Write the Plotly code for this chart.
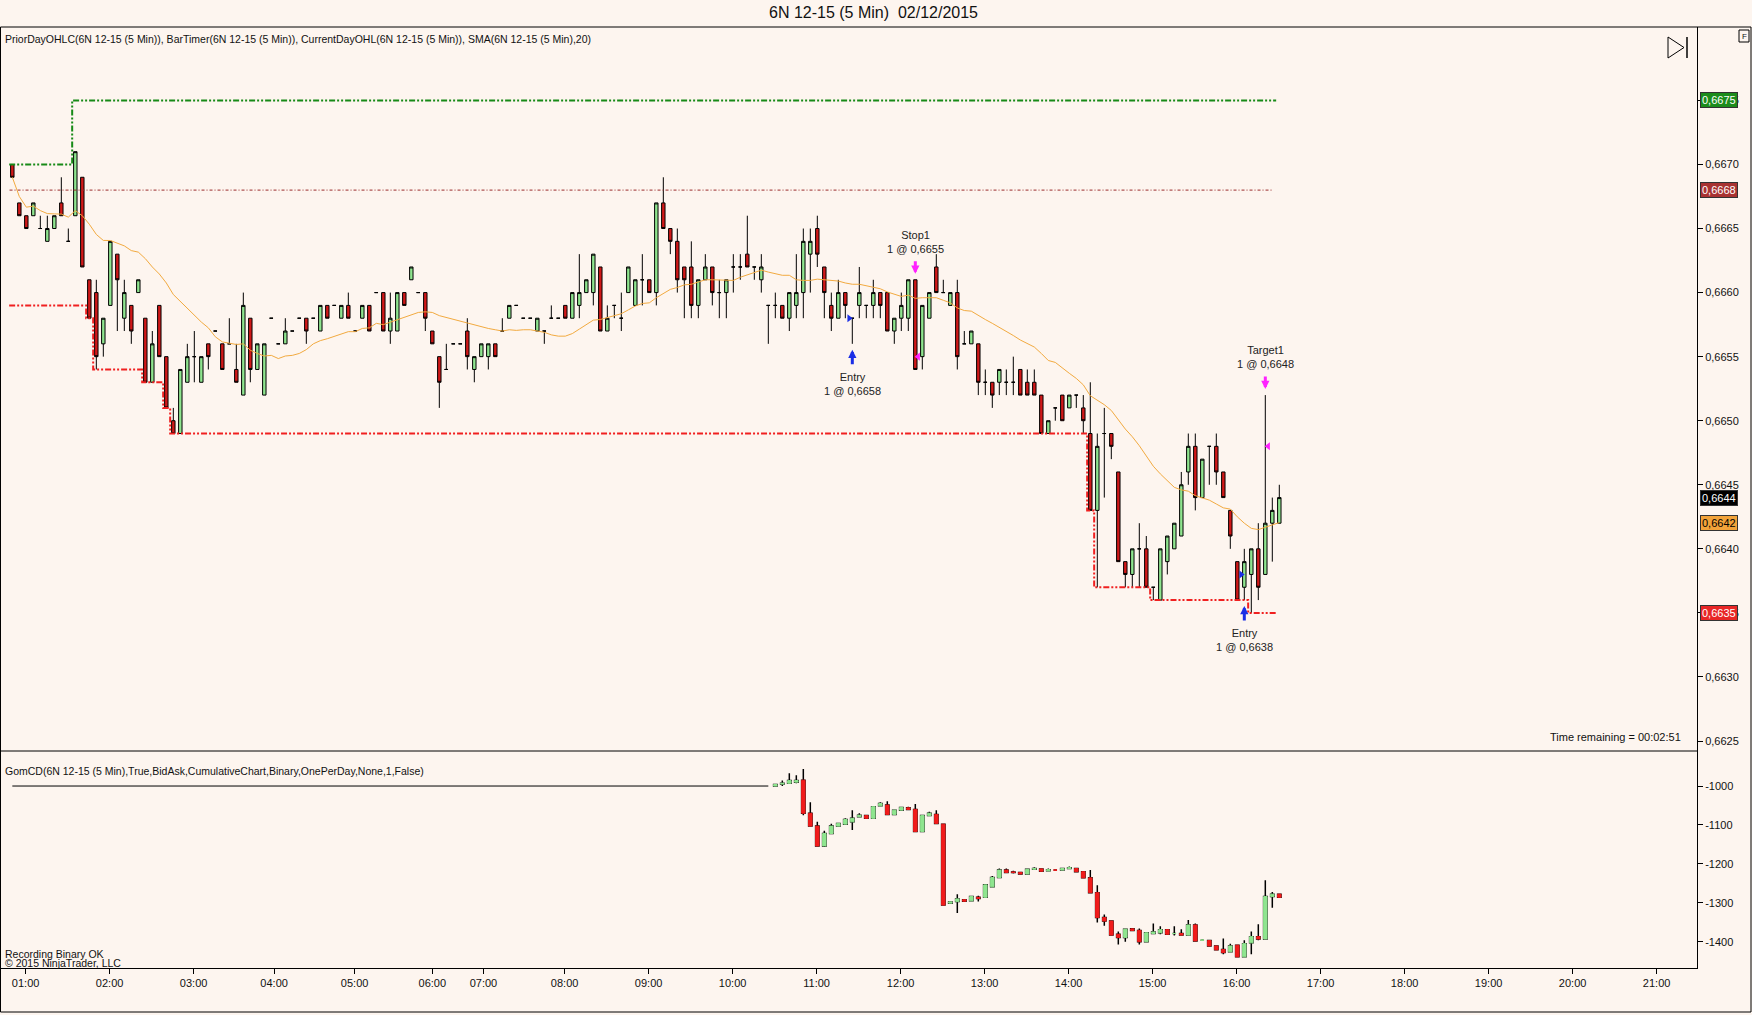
import pandas as pd
import plotly.graph_objects as go

W, H = 1752, 1015
BG = "#fdf5ef"
FONT = "Liberation Sans, Arial, sans-serif"

title = "6N 12-15 (5 Min)  02/12/2015"
price_label = ("PriorDayOHLC(6N 12-15 (5 Min)), BarTimer(6N 12-15 (5 Min)), "
               "CurrentDayOHL(6N 12-15 (5 Min)), SMA(6N 12-15 (5 Min),20)")
delta_label = "GomCD(6N 12-15 (5 Min),True,BidAsk,CumulativeChart,Binary,OnePerDay,None,1,False)"

# x axis: bar index of each hourly label
tick_labels = ["01:00", "02:00", "03:00", "04:00", "05:00", "06:00", "07:00", "08:00",
               "09:00", "10:00", "11:00", "12:00", "13:00", "14:00", "15:00", "16:00",
               "17:00", "18:00", "19:00", "20:00", "21:00"]
tick_bars = [1.9, 13.9, 25.9, 37.4, 48.9, 60.0, 67.3, 78.9, 90.9, 102.9, 114.9,
             126.9, 138.9, 150.9, 162.9, 174.9, 186.9, 198.9, 210.9, 222.9, 234.9]

price_ticks = [0.6625, 0.6630, 0.6635, 0.6640, 0.6645, 0.6650,
               0.6655, 0.6660, 0.6665, 0.6670, 0.6675]
delta_ticks = [-1000, -1100, -1200, -1300, -1400]

# 5 min OHLC
opens = [
    0.6670, 0.6667, 0.6666, 0.6666, 0.6665, 0.6664, 0.6665, 0.6667, 0.6664, 0.6666,
    0.6669, 0.6661, 0.6660, 0.6656, 0.6659, 0.6663, 0.6658, 0.6659, 0.6660, 0.6658,
    0.6653, 0.6659, 0.6655, 0.6650, 0.6649, 0.6653, 0.6655, 0.6653, 0.6656, 0.6657,
    0.6656, 0.6656, 0.6654, 0.6652, 0.6658, 0.6654, 0.6652, 0.6658, 0.6656, 0.6656,
    0.6657, 0.6658, 0.6658, 0.6658, 0.6657, 0.6659, 0.6659, 0.6658, 0.6659, 0.6657,
    0.6658, 0.6659, 0.6660, 0.6660, 0.6657, 0.6657, 0.6660, 0.6661, 0.6660, 0.6660,
    0.6657, 0.6655, 0.6654, 0.6656, 0.6656, 0.6657, 0.6654, 0.6655, 0.6655, 0.6656,
    0.6657, 0.6658, 0.6659, 0.6658, 0.6658, 0.6657, 0.6657, 0.6658, 0.6658, 0.6659,
    0.6658, 0.6659, 0.6660, 0.6660, 0.6662, 0.6657, 0.6659, 0.6658, 0.6660, 0.6659,
    0.6661, 0.6661, 0.6660, 0.6667, 0.6665, 0.6664, 0.6662, 0.6662, 0.6659, 0.6661,
    0.6662, 0.6660, 0.6660, 0.6662, 0.6662, 0.6663, 0.6662, 0.6661, 0.6659, 0.6659,
    0.6659, 0.6658, 0.6659, 0.6660, 0.6663, 0.6665, 0.6662, 0.6659, 0.6658, 0.6660,
    0.6658, 0.6659, 0.6659, 0.6659, 0.6660, 0.6660, 0.6657, 0.6658, 0.6658, 0.6661,
    0.6655, 0.6658, 0.6662, 0.6660, 0.6659, 0.6660, 0.6656, 0.6656, 0.6656, 0.6653,
    0.6653, 0.6653, 0.6653, 0.6653, 0.6654, 0.6653, 0.6653, 0.6652, 0.6649, 0.6651,
    0.6652, 0.6651, 0.6652, 0.6651, 0.6649, 0.6643, 0.6649, 0.6649, 0.6646, 0.6639,
    0.6638, 0.6640, 0.6640, 0.6637, 0.6636, 0.6639, 0.6640, 0.6641, 0.6646, 0.6648,
    0.6644, 0.6648, 0.6648, 0.6646, 0.6643, 0.6639, 0.6637, 0.6638, 0.6640, 0.6638,
    0.6642, 0.6642,
]
highs = [
    0.6670, 0.6667, 0.6666, 0.6667, 0.6666, 0.6666, 0.6666, 0.6669, 0.6665, 0.6671,
    0.6669, 0.6661, 0.6661, 0.6658, 0.6664, 0.6663, 0.6661, 0.6659, 0.6661, 0.6658,
    0.6657, 0.6659, 0.6655, 0.6651, 0.6654, 0.6656, 0.6657, 0.6655, 0.6656, 0.6657,
    0.6656, 0.6658, 0.6656, 0.6660, 0.6658, 0.6656, 0.6656, 0.6658, 0.6656, 0.6658,
    0.6657, 0.6658, 0.6658, 0.6658, 0.6659, 0.6659, 0.6659, 0.6659, 0.6660, 0.6657,
    0.6659, 0.6659, 0.6660, 0.6660, 0.6660, 0.6660, 0.6660, 0.6662, 0.6660, 0.6660,
    0.6657, 0.6655, 0.6656, 0.6656, 0.6656, 0.6658, 0.6655, 0.6656, 0.6656, 0.6656,
    0.6658, 0.6659, 0.6659, 0.6658, 0.6658, 0.6658, 0.6657, 0.6659, 0.6658, 0.6659,
    0.6660, 0.6663, 0.6661, 0.6663, 0.6662, 0.6659, 0.6659, 0.6660, 0.6662, 0.6661,
    0.6663, 0.6661, 0.6667, 0.6669, 0.6665, 0.6665, 0.6662, 0.6664, 0.6661, 0.6663,
    0.6662, 0.6661, 0.6661, 0.6663, 0.6663, 0.6666, 0.6662, 0.6663, 0.6659, 0.6660,
    0.6659, 0.6660, 0.6663, 0.6665, 0.6665, 0.6666, 0.6662, 0.6660, 0.6661, 0.6660,
    0.6658, 0.6662, 0.6659, 0.6661, 0.6660, 0.6660, 0.6658, 0.6660, 0.6661, 0.6661,
    0.6659, 0.6660, 0.6663, 0.6661, 0.6660, 0.6661, 0.6657, 0.6657, 0.6656, 0.6654,
    0.6653, 0.6654, 0.6654, 0.6655, 0.6654, 0.6654, 0.6654, 0.6652, 0.6650, 0.6651,
    0.6652, 0.6652, 0.6652, 0.6652, 0.6653, 0.6649, 0.6651, 0.6649, 0.6646, 0.6639,
    0.6640, 0.6642, 0.6641, 0.6637, 0.6640, 0.6641, 0.6642, 0.6646, 0.6649, 0.6649,
    0.6647, 0.6648, 0.6649, 0.6646, 0.6643, 0.6639, 0.6640, 0.6640, 0.6642, 0.6652,
    0.6644, 0.6645,
]
lows = [
    0.6669, 0.6666, 0.6665, 0.6666, 0.6665, 0.6664, 0.6665, 0.6666, 0.6664, 0.6666,
    0.6662, 0.6658, 0.6654, 0.6655, 0.6659, 0.6657, 0.6657, 0.6656, 0.6660, 0.6653,
    0.6653, 0.6655, 0.6651, 0.6649, 0.6649, 0.6653, 0.6653, 0.6653, 0.6654, 0.6657,
    0.6654, 0.6656, 0.6653, 0.6652, 0.6653, 0.6654, 0.6652, 0.6658, 0.6656, 0.6656,
    0.6657, 0.6658, 0.6656, 0.6658, 0.6657, 0.6658, 0.6659, 0.6658, 0.6658, 0.6657,
    0.6658, 0.6657, 0.6660, 0.6657, 0.6656, 0.6657, 0.6659, 0.6661, 0.6660, 0.6657,
    0.6656, 0.6651, 0.6654, 0.6656, 0.6656, 0.6654, 0.6653, 0.6655, 0.6654, 0.6655,
    0.6657, 0.6658, 0.6659, 0.6658, 0.6658, 0.6657, 0.6656, 0.6658, 0.6658, 0.6658,
    0.6658, 0.6658, 0.6660, 0.6659, 0.6657, 0.6657, 0.6658, 0.6657, 0.6660, 0.6659,
    0.6659, 0.6660, 0.6659, 0.6665, 0.6663, 0.6660, 0.6658, 0.6658, 0.6658, 0.6661,
    0.6659, 0.6658, 0.6658, 0.6660, 0.6661, 0.6662, 0.6661, 0.6660, 0.6656, 0.6658,
    0.6658, 0.6657, 0.6658, 0.6658, 0.6660, 0.6662, 0.6658, 0.6657, 0.6658, 0.6658,
    0.6656, 0.6658, 0.6658, 0.6658, 0.6658, 0.6657, 0.6656, 0.6657, 0.6657, 0.6654,
    0.6654, 0.6658, 0.6660, 0.6660, 0.6659, 0.6654, 0.6656, 0.6656, 0.6652, 0.6652,
    0.6651, 0.6652, 0.6652, 0.6652, 0.6652, 0.6652, 0.6652, 0.6649, 0.6649, 0.6650,
    0.6650, 0.6651, 0.6651, 0.6649, 0.6643, 0.6637, 0.6644, 0.6647, 0.6639, 0.6637,
    0.6637, 0.6637, 0.6637, 0.6636, 0.6636, 0.6638, 0.6640, 0.6641, 0.6645, 0.6643,
    0.6644, 0.6645, 0.6645, 0.6644, 0.6640, 0.6636, 0.6636, 0.6635, 0.6636, 0.6638,
    0.6639, 0.6642,
]
closes = [
    0.6669, 0.6666, 0.6665, 0.6667, 0.6665, 0.6665, 0.6666, 0.6666, 0.6664, 0.6671,
    0.6662, 0.6658, 0.6655, 0.6658, 0.6664, 0.6661, 0.6660, 0.6657, 0.6661, 0.6653,
    0.6656, 0.6655, 0.6651, 0.6649, 0.6654, 0.6655, 0.6655, 0.6655, 0.6655, 0.6657,
    0.6654, 0.6656, 0.6653, 0.6659, 0.6654, 0.6656, 0.6656, 0.6658, 0.6656, 0.6657,
    0.6657, 0.6658, 0.6657, 0.6658, 0.6659, 0.6658, 0.6659, 0.6659, 0.6658, 0.6657,
    0.6659, 0.6657, 0.6660, 0.6657, 0.6658, 0.6660, 0.6659, 0.6662, 0.6660, 0.6658,
    0.6656, 0.6653, 0.6654, 0.6656, 0.6656, 0.6655, 0.6655, 0.6656, 0.6656, 0.6655,
    0.6657, 0.6659, 0.6659, 0.6658, 0.6658, 0.6658, 0.6657, 0.6658, 0.6658, 0.6658,
    0.6660, 0.6660, 0.6661, 0.6663, 0.6657, 0.6658, 0.6659, 0.6658, 0.6662, 0.6661,
    0.6661, 0.6660, 0.6667, 0.6665, 0.6664, 0.6661, 0.6661, 0.6659, 0.6661, 0.6662,
    0.6660, 0.6660, 0.6661, 0.6662, 0.6662, 0.6662, 0.6662, 0.6662, 0.6659, 0.6659,
    0.6658, 0.6660, 0.6660, 0.6664, 0.6664, 0.6663, 0.6660, 0.6658, 0.6660, 0.6659,
    0.6658, 0.6660, 0.6659, 0.6660, 0.6659, 0.6657, 0.6658, 0.6659, 0.6661, 0.6654,
    0.6659, 0.6660, 0.6660, 0.6660, 0.6660, 0.6655, 0.6656, 0.6657, 0.6653, 0.6653,
    0.6652, 0.6654, 0.6653, 0.6653, 0.6652, 0.6652, 0.6652, 0.6649, 0.6650, 0.6651,
    0.6650, 0.6652, 0.6652, 0.6650, 0.6643, 0.6648, 0.6649, 0.6648, 0.6639, 0.6638,
    0.6640, 0.6640, 0.6637, 0.6637, 0.6640, 0.6641, 0.6642, 0.6645, 0.6648, 0.6644,
    0.6647, 0.6648, 0.6646, 0.6644, 0.6641, 0.6636, 0.6639, 0.6640, 0.6637, 0.6642,
    0.6643, 0.6644,
]

prior_close = 0.6668
hi_start_bars = [0, 9]
hi_levels = [0.6670, 0.6675]
lo_start_bars = [0, 11, 12, 19, 22, 23, 154, 155, 163, 177]
lo_levels = [0.6659, 0.6658, 0.6654, 0.6653, 0.6651, 0.6649, 0.6643, 0.6637, 0.6636, 0.6635]

# cumulative delta, recorded from bar 109 on
cd_first_bar = 109
cd_base = -1000
cd_open = [-1000, -995, -993, -990, -985, -1070, -1103, -1154, -1122, -1103,
           -1098, -1092, -1079, -1076, -1083, -1051, -1049, -1073, -1062, -1056,
           -1060, -1117, -1076, -1073, -1098, -1301, -1297, -1292, -1295, -1286,
           -1286, -1259, -1235, -1216, -1221, -1222, -1226, -1214, -1213, -1218,
           -1216, -1216, -1212, -1212, -1220, -1236, -1274, -1338, -1347, -1381,
           -1389, -1367, -1371, -1400, -1379, -1377, -1369, -1379, -1379, -1383,
           -1357, -1396, -1397, -1411, -1420, -1426, -1409, -1439, -1403, -1387,
           -1393, -1284, -1278]
cd_high = [-996, -986, -967, -972, -956, -1042, -1092, -1115, -1097, -1096,
           -1083, -1062, -1070, -1076, -1053, -1042, -1039, -1062, -1055, -1053,
           -1046, -1076, -1066, -1062, -1098, -1298, -1278, -1292, -1284, -1282,
           -1254, -1231, -1212, -1212, -1218, -1222, -1214, -1209, -1213, -1212,
           -1216, -1212, -1207, -1212, -1220, -1216, -1255, -1330, -1347, -1374,
           -1366, -1367, -1366, -1377, -1353, -1360, -1369, -1360, -1368, -1344,
           -1353, -1394, -1397, -1411, -1392, -1405, -1409, -1396, -1374, -1355,
           -1242, -1272, -1278]
cd_low = [-1000, -1000, -993, -993, -1075, -1103, -1154, -1157, -1122, -1103,
          -1098, -1113, -1079, -1083, -1083, -1051, -1073, -1073, -1062, -1060,
          -1117, -1117, -1076, -1096, -1306, -1301, -1326, -1296, -1295, -1297,
          -1286, -1259, -1235, -1222, -1225, -1226, -1226, -1214, -1219, -1218,
          -1216, -1216, -1212, -1220, -1236, -1274, -1351, -1359, -1383, -1407,
          -1400, -1371, -1407, -1400, -1379, -1381, -1381, -1384, -1383, -1383,
          -1398, -1398, -1411, -1421, -1432, -1426, -1439, -1439, -1432, -1396,
          -1393, -1313, -1286]
cd_close = [-996, -993, -986, -986, -1070, -1103, -1154, -1122, -1103, -1096,
            -1086, -1083, -1075, -1083, -1053, -1045, -1073, -1062, -1055, -1060,
            -1117, -1076, -1070, -1096, -1306, -1298, -1290, -1296, -1284, -1289,
            -1254, -1235, -1216, -1222, -1222, -1226, -1214, -1212, -1219, -1215,
            -1216, -1212, -1210, -1220, -1236, -1274, -1338, -1347, -1383, -1389,
            -1368, -1371, -1400, -1377, -1375, -1369, -1381, -1379, -1383, -1357,
            -1398, -1396, -1411, -1421, -1428, -1411, -1439, -1405, -1387, -1393,
            -1284, -1278, -1286]

# executions
trade_bars = [120, 129, 176, 179]
trade_prices = [0.6658, 0.6655, 0.6638, 0.6648]
trade_names = ["Entry", "Stop1", "Entry", "Target1"]
trade_sides = ["buy", "sell", "buy", "sell"]

time_remaining = "Time remaining = 00:02:51"

# ---- layout geometry (pixels) ----
PLOT_R = 1697
TOP, MID, BOT = 27, 751, 968
X_RANGE = [-1.76, 240.67]
PRICE_RANGE = [0.662422, 0.668073]
CD_RANGE = [-1467.6, -910.0]


def px(x):
    return x / W


def py(y):
    return 1 - y / H


def fmt(v):
    return f"{v:.4f}".replace(".", ",")


def steps(starts, levels, n):
    out = []
    for i in range(n):
        k = max(j for j, s in enumerate(starts) if s <= i)
        out.append(levels[k])
    return out


n = len(opens)
bars = list(range(n))
day_hi = steps(hi_start_bars, hi_levels, n)
day_lo = steps(lo_start_bars, lo_levels, n)
sma = pd.Series(closes).rolling(20, min_periods=1).mean()
cd_bars = list(range(cd_first_bar, cd_first_bar + len(cd_open)))
body_hi = [max(o, c) for o, c in zip(cd_open, cd_close)]
body_lo = [min(o, c) for o, c in zip(cd_open, cd_close)]

fig = go.Figure()

fig.add_trace(go.Candlestick(
    x=bars, open=opens, high=highs, low=lows, close=closes,
    increasing=dict(line=dict(color="black", width=1), fillcolor="#8fe58f"),
    decreasing=dict(line=dict(color="black", width=1), fillcolor="#d01818"),
    hoverinfo="skip", showlegend=False, xaxis="x", yaxis="y"))

dash = "6px,2px,2px,2px,2px,2px"
fig.add_trace(go.Scatter(
    x=[b - 0.45 for b in bars], y=day_hi, mode="lines",
    line=dict(color="#178a17", width=2, dash=dash, shape="hv"),
    hoverinfo="skip", showlegend=False))
fig.add_trace(go.Scatter(
    x=[b - 0.45 for b in bars], y=day_lo, mode="lines",
    line=dict(color="#f02020", width=2, dash=dash, shape="hv"),
    hoverinfo="skip", showlegend=False))
fig.add_trace(go.Scatter(
    x=[bars[0] - 0.4, bars[-1] - 0.9], y=[prior_close, prior_close], mode="lines",
    line=dict(color="#9a2a2a", width=1, dash="3px,2px,1px,2px"),
    hoverinfo="skip", showlegend=False))
fig.add_trace(go.Scatter(
    x=bars, y=sma, mode="lines", line=dict(color="#f2aa40", width=1),
    hoverinfo="skip", showlegend=False))

# execution triangles
for b, p, side in zip(trade_bars, trade_prices, trade_sides):
    buy = side == "buy"
    fig.add_trace(go.Scatter(
        x=[b - 0.45 if buy else b + 0.4], y=[p], mode="markers",
        marker=dict(symbol="triangle-right" if buy else "triangle-left", size=7,
                    color="#1a2ee6" if buy else "#ff22ff", line=dict(width=0)),
        hoverinfo="skip", showlegend=False))

# cumulative delta panel
fig.add_trace(go.Scatter(
    x=list(range(cd_first_bar)), y=[cd_base] * cd_first_bar, mode="lines",
    line=dict(color="black", width=1), hoverinfo="skip", showlegend=False,
    xaxis="x", yaxis="y2"))
fig.add_trace(go.Candlestick(
    x=cd_bars, open=cd_open, high=cd_high, low=cd_low, close=cd_close,
    increasing=dict(line=dict(color="black", width=1.5), fillcolor="#8fe58f"),
    decreasing=dict(line=dict(color="black", width=1.5), fillcolor="#f01c1c"),
    hoverinfo="skip", showlegend=False, xaxis="x", yaxis="y2"))
fig.add_trace(go.Candlestick(
    x=cd_bars, open=cd_open, high=body_hi, low=body_lo, close=cd_close,
    increasing=dict(line=dict(color="#8fe58f", width=1), fillcolor="#8fe58f"),
    decreasing=dict(line=dict(color="#f01c1c", width=1), fillcolor="#f01c1c"),
    hoverinfo="skip", showlegend=False, xaxis="x", yaxis="y2"))

ann = []
shapes = []

# trade arrows and labels
for b, p, name, side in zip(trade_bars, trade_prices, trade_names, trade_sides):
    buy = side == "buy"
    col = "#1a2ee6" if buy else "#ff22ff"
    y0 = lows[b] if buy else highs[b]
    ann.append(dict(x=b, y=y0, xref="x", yref="y", text="", showarrow=True,
                    ax=0, ay=22 if buy else -20, standoff=6, arrowhead=2,
                    arrowsize=0.55, arrowwidth=3, arrowcolor=col))
    ann.append(dict(x=b, y=y0, xref="x", yref="y", text=f"{name}<br>1 @ {fmt(p)}",
                    showarrow=False, yanchor="top" if buy else "bottom",
                    yshift=-25 if buy else 23, font=dict(size=11, color="#222")))

# price labels on the axis
right_labels = [
    (day_hi[-1], "#1c8c1c", "white"),
    (prior_close, "#a83232", "white"),
    (closes[-1], "#000000", "white"),
    (round(sma.iloc[-1], 4), "#f2a33a", "black"),
    (day_lo[-1], "#e82626", "white"),
]
for v, bg, fc in right_labels:
    ann.append(dict(x=px(1700), y=v, xref="paper", yref="y", text=fmt(v),
                    showarrow=False, xanchor="left", yanchor="middle",
                    bgcolor=bg, bordercolor="#333", borderwidth=1, borderpad=1,
                    font=dict(size=11, color=fc)))

ann += [
    dict(x=px(873), y=py(13), xref="paper", yref="paper", text=title, showarrow=False,
         xanchor="center", yanchor="middle", font=dict(size=16, color="#111")),
    dict(x=px(3), y=py(39), xref="paper", yref="paper", text=price_label, showarrow=False,
         xanchor="left", yanchor="middle", font=dict(size=10.5, color="#111")),
    dict(x=px(3), y=py(771), xref="paper", yref="paper", text=delta_label, showarrow=False,
         xanchor="left", yanchor="middle", font=dict(size=10.5, color="#111")),
    dict(x=px(3), y=py(954), xref="paper", yref="paper", text="Recording Binary OK",
         showarrow=False, xanchor="left", yanchor="middle", font=dict(size=10.5, color="#111")),
    dict(x=px(3), y=py(963), xref="paper", yref="paper", text="© 2015 NinjaTrader, LLC",
         showarrow=False, xanchor="left", yanchor="middle", font=dict(size=10.5, color="#111")),
    dict(x=px(1683), y=py(737), xref="paper", yref="paper", text=time_remaining,
         showarrow=False, xanchor="right", yanchor="middle", font=dict(size=11, color="#111")),
    dict(x=px(1744), y=py(36), xref="paper", yref="paper", text="F", showarrow=False,
         xanchor="center", yanchor="middle", font=dict(size=8, color="#111")),
]

line_k = dict(color="black", width=1)
shapes += [
    dict(type="rect", xref="paper", yref="paper", x0=px(0.5), x1=px(1751),
         y0=py(TOP), y1=py(1012), line=line_k),
    dict(type="line", xref="paper", yref="paper", x0=0, x1=px(PLOT_R),
         y0=py(MID), y1=py(MID), line=line_k),
    dict(type="rect", xref="paper", yref="paper", x0=px(1739), x1=px(1749),
         y0=py(30), y1=py(42), line=line_k),
    dict(type="path", xref="paper", yref="paper",
         path=f"M {px(1668)},{py(37)} L {px(1668)},{py(58)} L {px(1684)},{py(47.5)} Z",
         line=line_k),
    dict(type="line", xref="paper", yref="paper", x0=px(1687), x1=px(1687),
         y0=py(37), y1=py(58), line=dict(color="black", width=1.5)),
]

axis_font = dict(family=FONT, size=11, color="#111")
fig.update_layout(
    width=W, height=H, autosize=False,
    margin=dict(l=0, r=0, t=0, b=0),
    paper_bgcolor=BG, plot_bgcolor=BG,
    font=dict(family=FONT, size=11, color="#111"),
    showlegend=False,
    xaxis=dict(domain=[0, px(PLOT_R)], range=X_RANGE, anchor="y2",
               tickvals=tick_bars, ticktext=tick_labels, ticks="outside", ticklen=5,
               tickcolor="black", showline=True, linecolor="black", linewidth=1,
               showgrid=False, zeroline=False, rangeslider=dict(visible=False),
               tickfont=axis_font, fixedrange=True),
    yaxis=dict(domain=[py(MID), py(TOP)], range=PRICE_RANGE, anchor="x", side="right",
               tickvals=price_ticks, ticktext=[fmt(v) for v in price_ticks],
               ticks="outside", ticklen=5, tickcolor="black", showline=True,
               linecolor="black", linewidth=1, showgrid=False, zeroline=False,
               tickfont=axis_font, fixedrange=True),
    yaxis2=dict(domain=[py(BOT), py(MID)], range=CD_RANGE, anchor="x", side="right",
                tickvals=delta_ticks, ticktext=[str(v) for v in delta_ticks],
                ticks="outside", ticklen=5, tickcolor="black", showline=True,
                linecolor="black", linewidth=1, showgrid=False, zeroline=False,
                tickfont=axis_font, fixedrange=True),
    annotations=ann,
    shapes=shapes,
)

fig.write_html("out.html", config={"displayModeBar": False},
               post_script="document.body.style.margin='0';document.body.style.padding='0';")
